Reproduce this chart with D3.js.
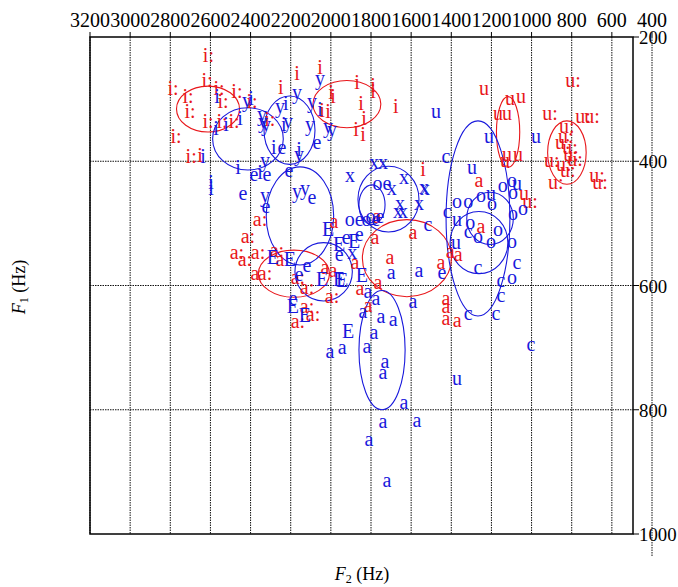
<!DOCTYPE html>
<html>
<head>
<meta charset="utf-8">
<script src="https://cdn.jsdelivr.net/npm/d3@7"></script>
<style>
  html, body { margin: 0; padding: 0; background: #fff; }
  svg { display: block; }
  text { font-family: "Liberation Serif", "Times New Roman", serif; }
</style>
</head>
<body>
<svg id="chart" width="678" height="587"></svg>
<script>
// Formant axes (Hz)
const f2Ticks = [3200, 3000, 2800, 2600, 2400, 2200, 2000, 1800, 1600, 1400, 1200, 1000, 800, 600, 400];
const f1Ticks = [200, 400, 600, 800, 1000];

// Speaker group 1 (red): [vowel, F2, F1]
const groupRed = [
  ["i:",2610,232],["i:",2617,272],["i:",2786,284],["i:",2557,284],["i:",2468,289],["i:",2712,298],
  ["i:",2702,321],["i:",2537,306],["i:",2612,337],["i:",2542,337],["i:",2482,337],["i:",2771,361],
  ["i:",2696,393],["i",2652,392],["i:",2393,305],["i:",2304,335],
  ["i",2249,282],["i",2169,261],["i",2054,250],["i",1999,290],["i",1989,298],["i",2044,319],
  ["i",2014,322],["i",1870,274],["i",1790,280],["i",1790,289],["i",1850,309],["i",1835,332],
  ["i",1875,350],["i",1840,359],["i",1676,314],["i",1541,414],
  ["u",1237,284],["u",1108,301],["u",1053,298],["u",1167,324],["u",1122,324],["u",1122,390],
  ["u",1068,390],["u",1132,401],["u",1038,454],["u:",1008,467],
  ["u:",794,271],["u:",908,324],["u:",744,330],["u:",699,329],["u:",824,346],["u:",844,371],
  ["u:",809,379],["u:",804,390],["u:",899,401],["u:",839,406],["u:",819,417],["u:",879,435],
  ["u:",674,424],["u:",659,435],["u:",829,361],["u:",784,398],
  ["a:",2353,495],["a:",2413,522],["a:",2468,548],["a:",2428,559],["a:",2363,549],["a:",2269,545],
  ["a",2254,559],["a",2378,582],["a:",2328,582],["a:",2164,588],["a:",2119,604],["a",2029,572],
  ["a",1989,578],["a:",1994,619],["a:",2119,635],["a:",2089,648],["a:",2164,660],["a",1984,498],
  ["a",1770,490],["a",1780,524],["a",1880,564],["a",1855,607],["a",1815,633],["a",1765,596],
  ["a",1705,556],["a",1591,516],["a",1451,564],["a",1406,546],["a",1366,551],["a",1426,623],
  ["a",1426,636],["a",1426,654],["a",1371,657],["a",1262,432],["a",1252,507]
];

// Speaker group 2 (blue): [vowel, F2, F1]
const groupBlue = [
  ["i",2567,298],["i",2572,348],["i",2522,342],["i",2453,332],["y",2418,303],["i",2398,301],
  ["y",2343,326],["y",2338,337],["y",2323,342],["y",2254,314],["i",2224,309],["y",2214,337],
  ["i",2234,343],["y",2169,290],["y",2054,269],["y",2094,306],["i",2054,318],["y",2104,342],
  ["y",2014,345],["y",1994,350],["i",2284,379],["e",2244,380],["i",2159,382],["y",2159,390],
  ["e",2069,371],["i",2637,393],["y",2328,401],["i",2463,412],["e",2383,422],["i",2353,419],
  ["e",2318,422],["e",2209,417],["i",2597,435],["i",2597,446],["e",2438,454],["y",2328,456],
  ["e",2323,475],["y",2169,450],["y",2129,446],["e",2094,459],
  ["E",2014,511],["E",2289,556],["E",2204,559],["e",2119,570],["e",2159,583],["E",2044,591],
  ["E",1959,591],["E",1944,594],["E",1959,536],["e",1924,524],["E",1884,530],["e",1859,519],
  ["e",1959,551],["x",1894,548],["oe",1884,495],["oe",1800,495],["E",1845,586],["e",2189,622],
  ["E",2189,636],["E",2129,649],["E",1914,675],
  ["x",1785,404],["x",1740,403],["x",1905,425],["x",1636,427],["x",1536,443],["x",1531,445],
  ["oe",1745,437],["x",1696,446],["x",1656,470],["x",1641,482],["x",1666,483],["x",1561,470],
  ["oe",1780,491],["c",1516,503],
  ["u",1476,321],["u",1212,361],["u",978,361],["c",1426,393],["u",1297,411],["o",1098,432],
  ["o",1143,440],["u",1073,438],["o",1093,451],["o",1043,477],["o",1093,485],["o",1371,467],
  ["o",1316,466],["o",1252,456],["u",1202,454],["o",1197,470],["c",1421,483],["u",1371,495],
  ["o",1306,500],["c",1316,515],["o",1267,522],["o",1202,530],["o",1167,511],["o",1098,530],
  ["u",1376,532],["e",1446,580],["c",1267,572],["c",1073,565],["c",1153,593],["o",1098,588],
  ["c",1153,617],["c",1316,646],["c",1177,646],["c",1003,696],["u",1371,751],
  ["a",1700,580],["a",1561,578],["a",1815,611],["a",1775,623],["a",1591,628],["a",1840,643],
  ["a",1750,652],["a",1690,656],["a",1785,677],["a",1820,699],["a",2004,707],["a",1944,701],
  ["a",1730,723],["a",1740,741],["a",1636,789],["a",1740,821],["a",1571,818],["a",1810,850],
  ["a",1720,916]
];

// Spread ellipses: [centre F2, centre F1, half-width in F2 (Hz), half-height in F1 (Hz)]
const ellipsesRed = [
  [2612,316,157,37],[1920,308,169,38],[1117,353,58,57],[824,386,96,51],
  [1621,556,222,62],[2184,581,177,38]
];
const ellipsesBlue = [
  [2413,364,176,50],[2206,350,127,55],[2154,488,168,79],[1713,461,152,53],
  [1795,470,65,32],[2036,578,143,47],[1745,704,115,96],[1267,492,159,157],
  [1207,492,116,42],[1262,531,144,50]
];

const RED = "rgb(232,22,26)";
const BLUE = "rgb(24,24,220)";

const svg = d3.select("#chart");
const plotL = 90, plotR = 633, plotT = 37, plotB = 534;

const x = d3.scaleLinear().domain([3200, 400]).range([90, 652]);
const y = d3.scaleLinear().domain([200, 1000]).range([plotT, plotB]);

// grid: vertical lines run the full F2 range, the rightmost one past the frame
const grid = svg.append("g");
grid.selectAll("line.v").data(f2Ticks).join("line")
  .attr("x1", d => x(d)).attr("x2", d => x(d))
  .attr("y1", plotT).attr("y2", d => d < 500 ? 557 : plotB)
  .attr("stroke", "#111").attr("stroke-width", 1)
  .attr("stroke-dasharray", "1.5,1");
grid.selectAll("line.h").data(f1Ticks.slice(1, -1)).join("line")
  .attr("x1", plotL).attr("x2", plotR)
  .attr("y1", d => y(d)).attr("y2", d => y(d))
  .attr("stroke", "#111").attr("stroke-width", 1)
  .attr("stroke-dasharray", "1.5,1");

// top axis ticks + labels
const topAxis = svg.append("g");
topAxis.selectAll("line").data(f2Ticks).join("line")
  .attr("x1", d => x(d)).attr("x2", d => x(d))
  .attr("y1", plotT - 5).attr("y2", plotT)
  .attr("stroke", "#000").attr("stroke-width", 1);
topAxis.selectAll("text").data(f2Ticks).join("text")
  .attr("x", d => x(d)).attr("y", 27)
  .attr("text-anchor", "middle")
  .attr("font-size", 20)
  .text(d => d);

// right axis ticks + labels
const rightAxis = svg.append("g");
rightAxis.selectAll("line").data(f1Ticks).join("line")
  .attr("x1", plotR).attr("x2", plotR + 6)
  .attr("y1", d => y(d)).attr("y2", d => y(d))
  .attr("stroke", "#000").attr("stroke-width", 1);
rightAxis.selectAll("text").data(f1Ticks).join("text")
  .attr("x", plotR + 6).attr("y", d => y(d) + 7)
  .attr("text-anchor", "start")
  .attr("font-size", 18.8)
  .text(d => d);

// frame
svg.append("rect")
  .attr("x", plotL).attr("y", plotT)
  .attr("width", plotR - plotL).attr("height", plotB - plotT)
  .attr("fill", "none").attr("stroke", "#000").attr("stroke-width", 1.5);

// ellipses
function drawEllipses(list, color) {
  svg.append("g").selectAll("ellipse").data(list).join("ellipse")
    .attr("cx", d => x(d[0]))
    .attr("cy", d => y(d[1]))
    .attr("rx", d => Math.abs(x(d[0] + d[2]) - x(d[0])))
    .attr("ry", d => Math.abs(y(d[1] + d[3]) - y(d[1])))
    .attr("fill", "none").attr("stroke", color).attr("stroke-width", 1.1);
}
drawEllipses(ellipsesRed, RED);
drawEllipses(ellipsesBlue, BLUE);

// vowel tokens
function drawTokens(list, color) {
  svg.append("g").selectAll("text").data(list).join("text")
    .attr("x", d => x(d[1]))
    .attr("y", d => y(d[2]))
    .attr("dy", "0.28em")
    .attr("text-anchor", "middle")
    .attr("font-size", 20)
    .attr("fill", color)
    .text(d => d[0]);
}
drawTokens(groupRed, RED);
drawTokens(groupBlue, BLUE);

// axis titles
const xt = svg.append("text").attr("x", 362).attr("y", 580)
  .attr("text-anchor", "middle").attr("font-size", 18);
xt.append("tspan").attr("font-style", "italic").text("F");
xt.append("tspan").attr("font-size", 12).attr("dy", 3).text("2");
xt.append("tspan").attr("dy", -3).text(" (Hz)");

const yt = svg.append("text")
  .attr("transform", "translate(25,287) rotate(-90)")
  .attr("text-anchor", "middle").attr("font-size", 18);
yt.append("tspan").attr("font-style", "italic").text("F");
yt.append("tspan").attr("font-size", 12).attr("dy", 3).text("1");
yt.append("tspan").attr("dy", -3).text(" (Hz)");
</script>
</body>
</html>
